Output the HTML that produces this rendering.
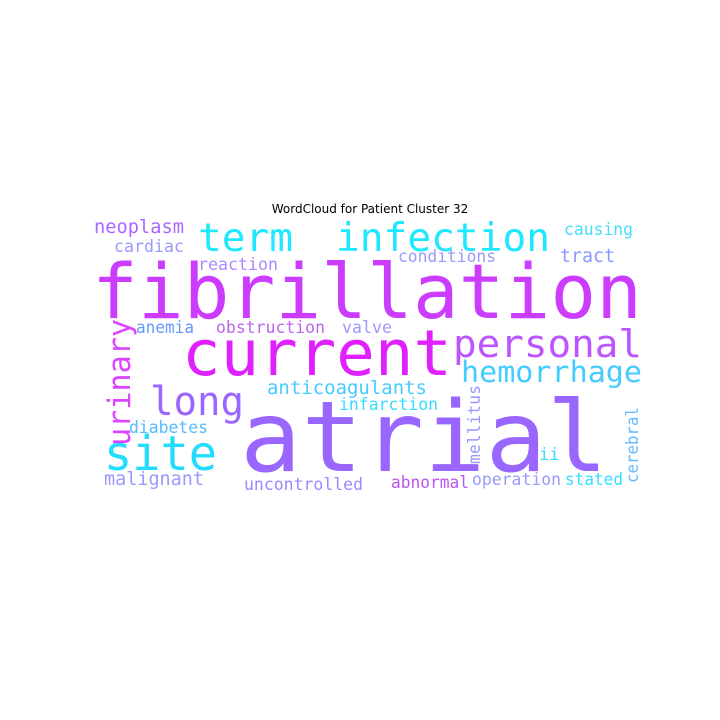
<!DOCTYPE html>
<html><head><meta charset="utf-8"><style>
html,body{margin:0;padding:0;background:#fff;}
svg{display:block;}
text{font-family:"DejaVu Sans Mono","Liberation Mono",monospace;}
</style></head><body>
<svg width="720" height="720" viewBox="0 0 720 720" xmlns="http://www.w3.org/2000/svg">
<rect width="720" height="720" fill="#fff"/>
<text x="370" y="213" text-anchor="middle" style="font-family:'DejaVu Sans',sans-serif" font-size="12" fill="#000">WordCloud for Patient Cluster 32</text>

<text x="92" y="318" font-size="76" fill="#cc3cff" textLength="550" lengthAdjust="spacingAndGlyphs">fibrillation</text>
<text x="240" y="471" font-size="98" fill="#9966ff" textLength="368" lengthAdjust="spacingAndGlyphs">atrial</text>
<text x="182" y="375" font-size="63" fill="#e020ff" textLength="270" lengthAdjust="spacingAndGlyphs">current</text>
<text x="198" y="251" font-size="39" fill="#1ee8ff" textLength="95" lengthAdjust="spacingAndGlyphs">term</text>
<text x="336" y="251" font-size="39" fill="#1ee8ff" textLength="214" lengthAdjust="spacingAndGlyphs">infection</text>
<text x="453" y="357" font-size="38" fill="#bb55ff" textLength="189" lengthAdjust="spacingAndGlyphs">personal</text>
<text x="461" y="382" font-size="29" fill="#44ccff" textLength="181" lengthAdjust="spacingAndGlyphs">hemorrhage</text>
<text x="150" y="415" font-size="40" fill="#9966ff" textLength="94" lengthAdjust="spacingAndGlyphs">long</text>
<text x="104" y="470" font-size="48" fill="#22ddff" textLength="113" lengthAdjust="spacingAndGlyphs">site</text>
<text transform="translate(130,446) rotate(-90)" font-size="31" fill="#dd44ff" textLength="127" lengthAdjust="spacingAndGlyphs">urinary</text>
<text x="267" y="394" font-size="19" fill="#44ccff" textLength="160" lengthAdjust="spacingAndGlyphs">anticoagulants</text>
<text x="339" y="410" font-size="17" fill="#33ddff" textLength="99" lengthAdjust="spacingAndGlyphs">infarction</text>
<text x="129" y="433" font-size="17" fill="#55bbff" textLength="79" lengthAdjust="spacingAndGlyphs">diabetes</text>
<text x="104" y="485" font-size="19" fill="#9999ff" textLength="100" lengthAdjust="spacingAndGlyphs">malignant</text>
<text x="244" y="490" font-size="17" fill="#9988ff" textLength="119" lengthAdjust="spacingAndGlyphs">uncontrolled</text>
<text x="391" y="488" font-size="17" fill="#bb55ee" textLength="78" lengthAdjust="spacingAndGlyphs">abnormal</text>
<text x="472" y="485" font-size="17" fill="#9999ff" textLength="89" lengthAdjust="spacingAndGlyphs">operation</text>
<text x="565" y="485" font-size="17" fill="#33ddff" textLength="58" lengthAdjust="spacingAndGlyphs">stated</text>
<text transform="translate(638,483) rotate(-90)" font-size="17" fill="#66bbff" textLength="76" lengthAdjust="spacingAndGlyphs">cerebral</text>
<text transform="translate(480,464) rotate(-90)" font-size="17" fill="#9999ff" textLength="79" lengthAdjust="spacingAndGlyphs">mellitus</text>
<text x="539" y="460" font-size="17" fill="#33ddff">ii</text>
<text x="136" y="333" font-size="17" fill="#6699ff" textLength="58" lengthAdjust="spacingAndGlyphs">anemia</text>
<text x="216" y="333" font-size="17" fill="#bb66ee" textLength="109" lengthAdjust="spacingAndGlyphs">obstruction</text>
<text x="342" y="333" font-size="17" fill="#9999ff" textLength="50" lengthAdjust="spacingAndGlyphs">valve</text>
<text x="198" y="270" font-size="17" fill="#aa88ff" textLength="80" lengthAdjust="spacingAndGlyphs">reaction</text>
<text x="94" y="233" font-size="19" fill="#aa66ff" textLength="90" lengthAdjust="spacingAndGlyphs">neoplasm</text>
<text x="114" y="252" font-size="17" fill="#9999ff" textLength="70" lengthAdjust="spacingAndGlyphs">cardiac</text>
<text x="398" y="262" font-size="17" fill="#9999ff" textLength="98" lengthAdjust="spacingAndGlyphs">conditions</text>
<text x="564" y="235" font-size="17" fill="#44ddff" textLength="69" lengthAdjust="spacingAndGlyphs">causing</text>
<text x="560" y="262" font-size="19" fill="#8899ff" textLength="55" lengthAdjust="spacingAndGlyphs">tract</text>
</svg>
</body></html>
